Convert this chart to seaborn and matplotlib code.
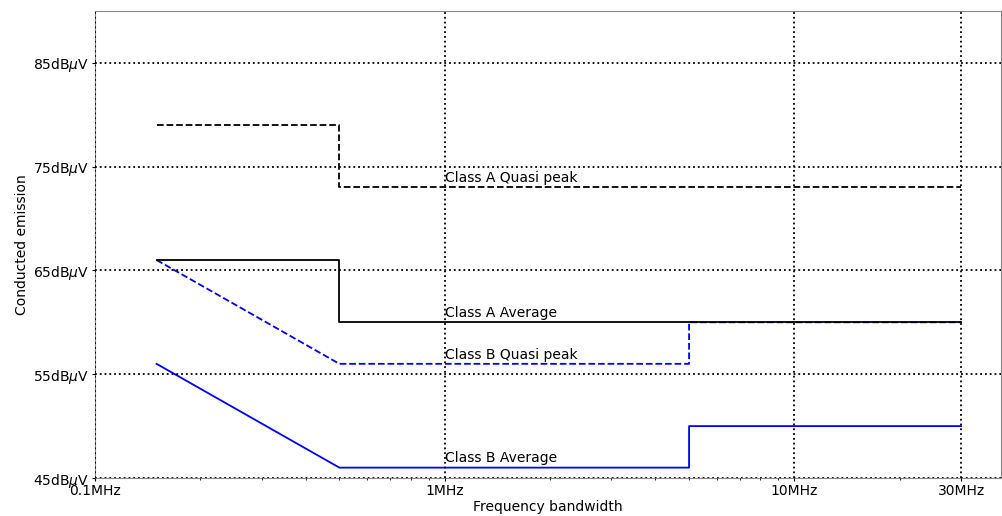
import matplotlib
matplotlib.use("Agg")
import matplotlib.pyplot as plt
import matplotlib.ticker as mticker
import numpy as np
import pandas as pd
import seaborn as sns

# Conducted emission limit lines (frequency in MHz, level in dBuV)
class_a_qp_f = [0.15, 0.5, 0.5, 30]
class_a_qp_v = [79, 79, 73, 73]
class_a_avg_f = [0.15, 0.5, 0.5, 30]
class_a_avg_v = [66, 66, 60, 60]
class_b_qp_f = [0.15, 0.5, 5, 5, 30]
class_b_qp_v = [66, 56, 56, 60, 60]
class_b_avg_f = [0.15, 0.5, 5, 5, 30]
class_b_avg_v = [56, 46, 46, 50, 50]

# Level of each limit at 1 MHz, where its name is written
label_f = 1
label_levels = {
    "Class A Quasi peak": 73,
    "Class A Average": 60,
    "Class B Quasi peak": 56,
    "Class B Average": 46,
}

x_ticks = [0.1, 1, 10, 30]
x_tick_labels = ["0.1MHz", "1MHz", "10MHz", "30MHz"]
y_ticks = [45, 55, 65, 75, 85]
y_tick_labels = [f"{v}dB$\\mu$V" for v in y_ticks]

series = [
    ("Class B Quasi peak", class_b_qp_f, class_b_qp_v, "blue", "--"),
    ("Class A Quasi peak", class_a_qp_f, class_a_qp_v, "black", "--"),
    ("Class A Average", class_a_avg_f, class_a_avg_v, "black", "-"),
    ("Class B Average", class_b_avg_f, class_b_avg_v, "blue", "-"),
]

fig, ax = plt.subplots(figsize=(10.03, 5.16), dpi=100)
fig.subplots_adjust(left=0.0947, right=0.998, top=0.979, bottom=0.0736)

for name, f, v, color, ls in series:
    df = pd.DataFrame({"f": f, "v": v})
    sns.lineplot(data=df, x="f", y="v", ax=ax, color=color, linestyle=ls,
                 linewidth=1.3, estimator=None, sort=False)
    ax.text(label_f, label_levels[name] + 0.5, name, fontsize=10)

ax.set_xscale("log")
ax.set_xlim(0.1, 39)
ax.set_ylim(45, 90)
ax.set_xticks(x_ticks)
ax.set_xticklabels(x_tick_labels)
ax.xaxis.set_minor_formatter(mticker.NullFormatter())
ax.set_yticks(y_ticks)
ax.set_yticklabels(y_tick_labels)
ax.tick_params(which="major", length=2, pad=2)
ax.tick_params(which="minor", length=1.5)
ax.set_axisbelow(False)
for sp in ax.spines.values():
    sp.set_color("#888888")
    sp.set_linewidth(0.8)
ax.grid(True, which="major", color="black", linestyle=":", linewidth=1.3)
ax.set_xlabel("Frequency bandwidth", labelpad=2)
ax.set_ylabel("Conducted emission", labelpad=3)

fig.savefig("out.png", dpi=100)
